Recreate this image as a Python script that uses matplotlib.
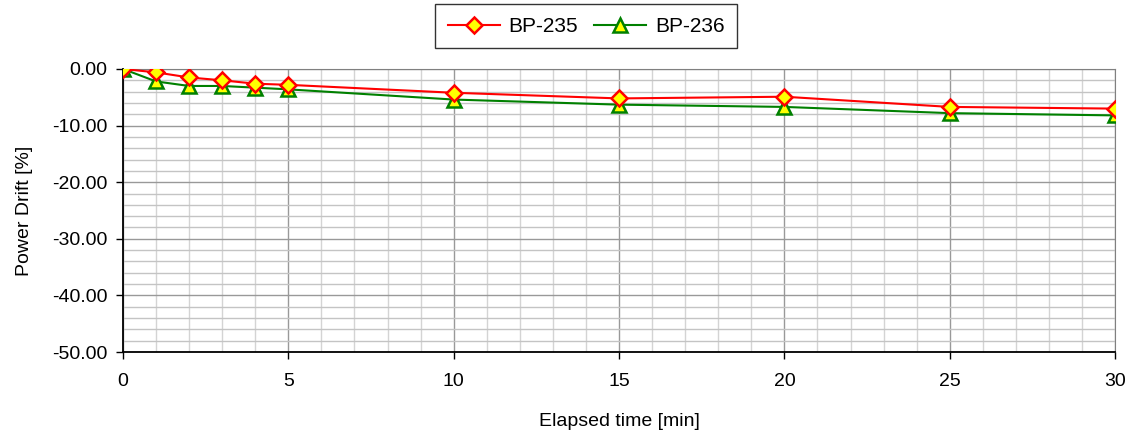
import numpy as np
import matplotlib
matplotlib.use("Agg")
import matplotlib.pyplot as plt
from matplotlib.ticker import MultipleLocator, FormatStrFormatter

plt.rcParams['font.family'] = ['Liberation Sans', 'DejaVu Sans']

# elapsed time [min]
elapsed = [0, 1, 2, 3, 4, 5, 10, 15, 20, 25, 30]
# power drift [%]
bp235 = [0.0, -0.6, -1.5, -2.0, -2.6, -2.8, -4.2, -5.2, -4.9, -6.7, -7.0]
bp236 = [0.0, -2.2, -3.0, -3.0, -3.3, -3.6, -5.4, -6.3, -6.7, -7.8, -8.2]

fig = plt.figure(figsize=(11.37, 4.38), dpi=100)
ax = fig.add_axes([0.1082, 0.1963, 0.8725, 0.6462])

ax.plot(elapsed, bp235, color='#ff0000', lw=1.5, marker='D', ms=8.5,
        mfc='#ffff00', mec='#ff0000', mew=1.8, label='BP-235', zorder=4)
ax.plot(elapsed, bp236, color='#008000', lw=1.5, marker='^', ms=10,
        mfc='#ffff00', mec='#008000', mew=1.8, label='BP-236', zorder=3)

ax.set_xlim(0, 30)
ax.set_ylim(-50, 0)
ax.xaxis.set_major_locator(MultipleLocator(5))
ax.xaxis.set_minor_locator(MultipleLocator(1))
ax.yaxis.set_major_locator(MultipleLocator(10))
ax.yaxis.set_minor_locator(MultipleLocator(2))
ax.yaxis.set_major_formatter(FormatStrFormatter('%.2f'))

ax.grid(which='major', axis='x', color='#999999', lw=1.0)
ax.grid(which='minor', axis='x', color='#d4d4d4', lw=1.0)
ax.grid(which='major', axis='y', color='#999999', lw=1.0)
ax.grid(which='minor', axis='y', color='#c4c4c4', lw=1.0)
ax.set_axisbelow(True)

for s in ['top', 'right']:
    ax.spines[s].set_color('#808080')
for s in ['left', 'bottom']:
    ax.spines[s].set_color('black')
    ax.spines[s].set_linewidth(1.3)

ax.tick_params(which='major', direction='out', length=5, width=1, labelsize=14,
               pad=6)
ax.tick_params(axis='x', which='major', pad=10)
ax.tick_params(which='minor', length=0)

ax.set_xlabel('Elapsed time [min]', fontsize=14, labelpad=17)
ax.set_ylabel('Power Drift [%]', fontsize=14, labelpad=14)

leg = fig.legend(loc='center', bbox_to_anchor=(0.5154, 0.9395), ncol=2,
                 fontsize=15, frameon=True, fancybox=False, edgecolor='black',
                 handlelength=2.5, columnspacing=0.8, handletextpad=0.4,
                 borderpad=0.6)
leg.get_frame().set_linewidth(1.0)

fig.savefig('out.png', dpi=100)
